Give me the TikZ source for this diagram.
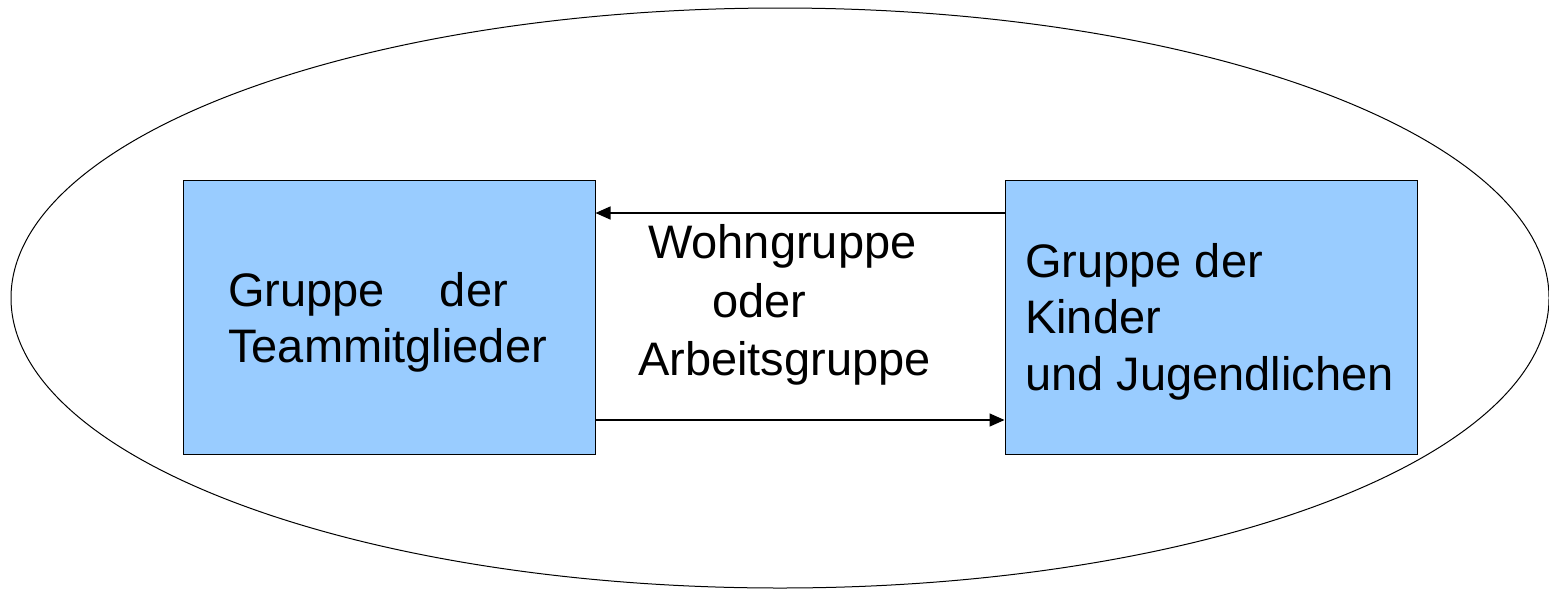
\documentclass[tikz,border=0pt]{standalone}
\usepackage{fontspec}
\setmainfont{Liberation Sans}
\usetikzlibrary{arrows.meta,shapes.geometric}
\definecolor{boxblue}{HTML}{99CCFF}
\tikzset{
  grpbox/.style={draw=black, line width=1pt, fill=boxblue, inner sep=0pt},
  lbl/.style={anchor=base west, inner sep=0pt, font=\fontsize{47}{56}\selectfont},
  conn/.style={line width=1.5pt, -{Triangle[length=15pt,width=13pt]}}
}
\begin{document}
\begin{tikzpicture}[x=1pt,y=-1pt]
\useasboundingbox (0,0) rectangle (1549,590);
\node[draw=black, line width=1pt, ellipse, minimum width=1538pt, minimum height=580pt, inner sep=0pt] (outer) at (780,298) {};
\node[grpbox, minimum width=412pt, minimum height=274pt] (team) at (389,317) {};
\node[grpbox, minimum width=412pt, minimum height=274pt] (kids) at (1211,317) {};
\node[lbl] (t1) at (228,306) {Gruppe\hspace{55pt}der};
\node[lbl] (t2) at (228,362) {Teammitglieder};
\node[lbl] (m1) at (648,258) {Wohngruppe};
\node[lbl] (m2) at (712,317) {oder};
\node[lbl] (m3) at (638,375) {Arbeitsgruppe};
\node[lbl] (k1) at (1025,277) {Gruppe der};
\node[lbl] (k2) at (1025,333) {Kinder};
\node[lbl] (k3) at (1025,390) {und Jugendlichen};
\coordinate (kt) at (kids.west |- 0,213);
\coordinate (tt) at (team.east |- 0,213);
\coordinate (tb) at (team.east |- 0,420);
\coordinate (kb) at (kids.west |- 0,420);
\draw[conn] (kt) -- (tt);
\draw[conn] (tb) -- (kb);
\end{tikzpicture}
\end{document}
